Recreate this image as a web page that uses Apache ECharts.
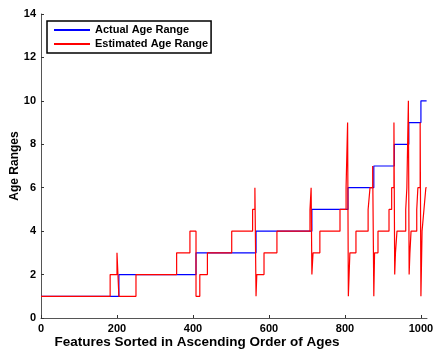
<!DOCTYPE html>
<html>
<head>
<meta charset="utf-8">
<script src="https://cdn.jsdelivr.net/npm/echarts@6/dist/echarts.min.js"></script>
<style>
  html, body { margin: 0; padding: 0; background: #fff; }
  #chart { width: 436px; height: 351px; }
</style>
</head>
<body>
<div id="chart"></div>
<script>
// step breakpoints: feature index where a level starts, and the level
const featureCount = 1015;
const actualStart = [0, 205, 408, 566, 713, 808, 876, 930, 968, 1000];
const actualLevel = [1, 2, 3, 4, 5, 6, 7, 8, 9, 10];
const estStart = [0, 182, 200, 205, 250, 357, 392, 408, 418, 438, 502, 557, 563, 566, 568, 587, 621, 708, 711,
  713, 716, 734, 787, 803, 807, 809, 811, 813, 829, 861, 866, 873, 876, 878, 887, 916, 923, 929,
  931, 933, 937, 960, 963, 967, 969, 971, 974, 989, 992, 998, 1000, 1003, 1008, 1013];
const estLevel = [1, 2, 3, 1, 2, 3, 4, 1, 2, 3, 4, 5, 6, 1, 2, 3, 4, 5, 6,
  2, 3, 4, 5, 6, 9, 1, 2, 3, 4, 5, 6, 7, 1, 3, 4, 5, 6, 9,
  2, 3, 4, 5, 6, 10, 2, 3, 4, 5, 6, 9, 1, 4, 5, 6];
const xTicks = [0, 200, 400, 600, 800, 1000];
const yTicks = [0, 2, 4, 6, 8, 10, 12, 14];

const font = '"Liberation Sans", Arial, sans-serif';

// turn breakpoints into [x, y] pairs for a step line
const toSteps = (starts, levels) => {
  const pts = starts.map((s, i) => [s, levels[i]]);
  pts.push([featureCount, levels[levels.length - 1]]);
  return pts;
};

const chart = echarts.init(document.getElementById('chart'));

const axisLine = { show: true, lineStyle: { color: '#555', width: 1 } };
const labelStyle = { color: '#000', fontFamily: font, fontWeight: 'bold', fontSize: 11 };

chart.setOption({
  animation: false,
  grid: { left: 41, right: 9, top: 14, bottom: 33, outerBoundsMode: 'none', containLabel: false },
  legend: {
    orient: 'vertical',
    left: 47,
    top: 21,
    padding: [2, 3, 2, 7],
    itemGap: 0,
    itemWidth: 36,
    itemHeight: 2,
    icon: 'rect',
    borderColor: '#000',
    borderWidth: 1.5,
    backgroundColor: '#fff',
    textStyle: { color: '#000', fontFamily: font, fontWeight: 'bold', fontSize: 11, lineHeight: 14 },
    data: ['Actual Age Range', 'Estimated Age Range'],
  },
  xAxis: {
    type: 'value',
    min: 0,
    max: 1016,
    name: 'Features Sorted in Ascending Order of Ages',
    nameLocation: 'middle',
    nameGap: 17,
    nameMoveOverlap: false,
    nameTextStyle: { color: '#000', fontFamily: font, fontWeight: 'bold', fontSize: 13.5, padding: [0, 74, 0, 0] },
    axisLine: axisLine,
    axisTick: { show: true, inside: true, length: 3, customValues: xTicks, lineStyle: { color: '#333' } },
    axisLabel: { ...labelStyle, margin: 5, customValues: xTicks, formatter: (v) => String(v) },
    splitLine: { show: false },
  },
  yAxis: {
    type: 'value',
    min: 0,
    max: 14,
    interval: 2,
    name: 'Age Ranges',
    nameLocation: 'middle',
    nameRotate: 90,
    nameGap: 20,
    nameMoveOverlap: false,
    nameTextStyle: { color: '#000', fontFamily: font, fontWeight: 'bold', fontSize: 12 },
    axisLine: axisLine,
    axisTick: { show: true, inside: true, length: 3, lineStyle: { color: '#333' } },
    axisLabel: { ...labelStyle, margin: 5, customValues: yTicks },
    splitLine: { show: false },
  },
  series: [
    {
      name: 'Actual Age Range',
      type: 'line',
      step: 'end',
      symbol: 'none',
      data: toSteps(actualStart, actualLevel),
      itemStyle: { color: '#0000ff' },
      lineStyle: { color: '#0000ff', width: 1.2 },
      z: 2,
    },
    {
      name: 'Estimated Age Range',
      type: 'line',
      step: 'end',
      symbol: 'none',
      data: toSteps(estStart, estLevel),
      itemStyle: { color: '#ff0000' },
      lineStyle: { color: '#ff0000', width: 1.2 },
      z: 3,
    },
  ],
});
</script>
</body>
</html>
